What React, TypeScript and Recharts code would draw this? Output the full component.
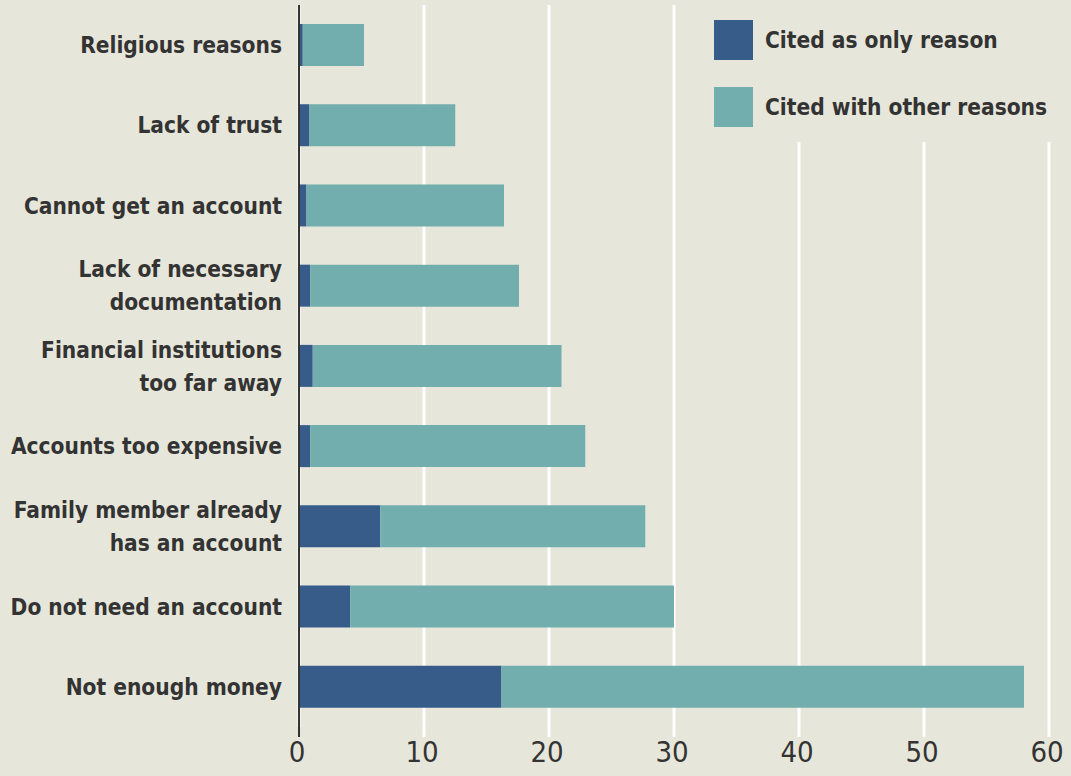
import React from 'react';
import { BarChart, Bar, XAxis, YAxis, CartesianGrid } from 'recharts';

const categories = [
  'Religious reasons',
  'Lack of trust',
  'Cannot get an account',
  'Lack of necessary\ndocumentation',
  'Financial institutions\ntoo far away',
  'Accounts too expensive',
  'Family member already\nhas an account',
  'Do not need an account',
  'Not enough money',
];

const onlyReason = [0.3, 0.8, 0.6, 0.9, 1.1, 0.9, 6.5, 4.1, 16.2];
const withOthers = [4.9, 11.7, 15.8, 16.7, 19.9, 22.0, 21.2, 25.9, 41.8];

const xTicks = [0, 10, 20, 30, 40, 50, 60];

const series = [
  { key: 'only', name: 'Cited as only reason', color: '#375c8a' },
  { key: 'others', name: 'Cited with other reasons', color: '#72aead' },
];

const BG = '#e6e6da';
const INK = '#333333';
const LABEL_FONT = '"DejaVu Sans Condensed", "Liberation Sans", Arial, sans-serif';
const NUM_FONT = '"Liberation Sans Narrow", "DejaVu Sans Condensed", "Liberation Sans", sans-serif';

const data = categories.map((name, i) => ({
  name,
  only: onlyReason[i],
  others: withOthers[i],
}));

const YTick = (props: any) => {
  const { x, y, payload } = props;
  const lines: string[] = String(payload.value).split('\n');
  const lineH = 33;
  const start = y - ((lines.length - 1) * lineH) / 2;
  return (
    <text
      x={x}
      y={start}
      textAnchor="end"
      dominantBaseline="central"
      fill={INK}
      fontFamily={LABEL_FONT}
      fontWeight="bold"
      fontSize={22.5}
    >
      {lines.map((l, i) => (
        <tspan key={i} x={x} dy={i === 0 ? 0 : lineH}>
          {l}
        </tspan>
      ))}
    </text>
  );
};

const XTick = (props: any) => {
  const { x, y, payload } = props;
  const zero = payload.value === 0;
  return (
    <g>
      <line
        x1={x}
        x2={x}
        y1={y - 1}
        y2={y + 10}
        stroke={zero ? INK : '#ffffff'}
        strokeWidth={zero ? 2 : 3}
      />
      <text
        x={x - 2}
        y={y + 35}
        textAnchor="middle"
        fill={INK}
        fontFamily={NUM_FONT}
        fontSize={29}
      >
        {payload.value}
      </text>
    </g>
  );
};

export default function App() {
  return (
    <div
      style={{
        position: 'fixed',
        left: 0,
        top: 0,
        width: 1071,
        height: 776,
        background: BG,
        overflow: 'hidden',
      }}
    >
      <BarChart
        width={1071}
        height={776}
        data={data}
        layout="vertical"
        margin={{ top: 5, right: 22, bottom: 0, left: 0 }}
        barSize={42}
      >
        <CartesianGrid horizontal={false} stroke="#ffffff" strokeWidth={3} />
        <XAxis
          type="number"
          domain={[0, 60]}
          ticks={xTicks}
          height={49}
          axisLine={false}
          tickLine={false}
          tickSize={0}
          tickMargin={0}
          tick={<XTick />}
          interval={0}
        />
        <YAxis
          type="category"
          dataKey="name"
          width={299}
          axisLine={{ stroke: INK, strokeWidth: 2 }}
          tickLine={false}
          tickSize={0}
          tickMargin={17}
          tick={<YTick />}
          interval={0}
        />
        {series.map((s) => (
          <Bar
            key={s.key}
            dataKey={s.key}
            name={s.name}
            stackId="a"
            fill={s.color}
            isAnimationActive={false}
          />
        ))}
      </BarChart>
      <div
        style={{
          position: 'absolute',
          left: 702,
          top: 0,
          width: 369,
          height: 142,
          background: BG,
        }}
      >
        {series.map((s, i) => (
          <div
            key={s.key}
            style={{
              position: 'absolute',
              left: 12,
              top: 20 + i * 67,
              display: 'flex',
              alignItems: 'center',
              height: 40,
            }}
          >
            <div style={{ width: 39, height: 40, background: s.color }} />
            <span
              style={{
                marginLeft: 12,
                fontFamily: LABEL_FONT,
                fontWeight: 'bold',
                fontSize: 22.5,
                color: INK,
                whiteSpace: 'nowrap',
              }}
            >
              {s.name}
            </span>
          </div>
        ))}
      </div>
    </div>
  );
}
